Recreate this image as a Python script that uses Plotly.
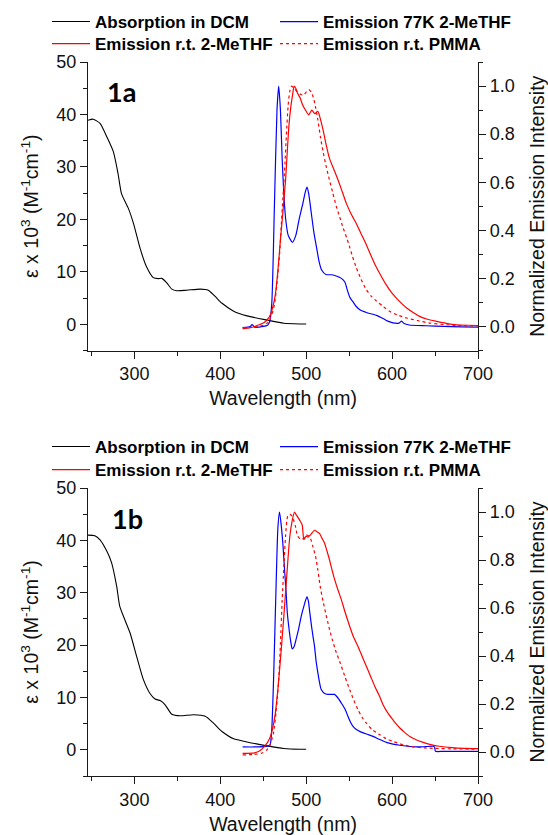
import plotly.graph_objects as go

# ---------------- 1a ----------------
abs_a_wl = [246, 252, 260, 268, 275.5, 281, 285, 293, 299, 306.6, 314, 322, 328, 332, 337.7, 343.6,
            349.4, 361, 376.6, 386, 394, 402, 415.6, 431, 454.5, 474, 493, 500]
abs_a = [38.9, 39.1, 38.3, 35.7, 32.9, 28.7, 24.9, 22.1, 19.2, 14.5, 11.0, 8.9, 8.7, 8.75, 7.9, 6.7,
         6.4, 6.5, 6.7, 6.5, 5.3, 4.0, 2.5, 1.6, 0.8, 0.2, 0.06, 0.05]

em77_a_wl = [426, 435, 437, 440, 450, 455, 457.5, 460, 463, 466, 468, 470, 472, 474, 476, 479, 484, 488,
             492, 496, 499, 501, 503, 506, 509, 512, 515, 518, 523, 530, 535, 541, 545, 548, 551, 555,
             558, 563, 570, 582, 590, 595, 601, 608, 611, 614, 620, 640, 660, 680, 700]
em77_a = [-0.005, 0.0, 0.008, -0.003, 0.0, 0.005, 0.02, 0.1, 0.5, 0.9, 1.0, 0.9, 0.7, 0.55, 0.45, 0.38,
          0.35, 0.38, 0.45, 0.51, 0.56, 0.58, 0.55, 0.47, 0.39, 0.33, 0.27, 0.235, 0.216, 0.215, 0.21,
          0.2, 0.185, 0.15, 0.12, 0.1, 0.084, 0.068, 0.058, 0.046, 0.032, 0.022, 0.015, 0.014, 0.022,
          0.012, 0.006, 0.003, 0.0, -0.002, -0.003]

emrt_a_wl = [426, 435, 440, 446, 451, 455, 458.5, 461, 464, 467, 470, 473, 476, 478, 480, 482, 484, 486,
             488, 490, 493, 496, 500, 503, 506.5, 510, 513.5, 516, 519.5, 523, 527, 532, 537, 542, 547,
             552, 558, 564, 570, 576, 582, 588, 593, 599, 605, 611, 617, 625, 632, 641, 652, 663, 675,
             688, 700]
emrt_a = [-0.01, -0.005, 0.0, 0.008, 0.016, 0.03, 0.05, 0.08, 0.13, 0.23, 0.36, 0.48, 0.61, 0.73, 0.84,
          0.91, 0.96, 1.0, 0.99, 0.97, 0.95, 0.92, 0.895, 0.88, 0.9, 0.885, 0.895, 0.87, 0.82, 0.76, 0.7,
          0.655, 0.61, 0.56, 0.51, 0.47, 0.43, 0.385, 0.34, 0.29, 0.244, 0.205, 0.174, 0.143, 0.118,
          0.096, 0.077, 0.057, 0.042, 0.03, 0.021, 0.013, 0.007, 0.005, 0.004]

pmma_a_wl = [426, 440, 450, 455, 460, 463, 466, 469, 471, 473, 475, 477, 479, 481, 483, 486, 490, 494,
             497, 500, 503, 506, 508.5, 511, 513.5, 516.5, 519.5, 523, 527, 531, 535, 539, 543, 547,
             550.6, 554, 558.4, 564, 570, 576, 582, 590, 597, 606, 617, 630, 644, 660, 675, 700]
pmma_a = [-0.005, -0.003, 0.005, 0.015, 0.05, 0.09, 0.18, 0.3, 0.42, 0.54, 0.66, 0.8, 0.92, 0.98, 1.0,
          0.99, 0.975, 0.965, 0.962, 0.975, 0.985, 0.975, 0.95, 0.91, 0.86, 0.79, 0.73, 0.67, 0.61,
          0.555, 0.5, 0.455, 0.41, 0.37, 0.33, 0.29, 0.244, 0.195, 0.153, 0.125, 0.105, 0.082, 0.063,
          0.048, 0.035, 0.024, 0.014, 0.008, 0.004, 0.002]

# ---------------- 1b ----------------
abs_b_wl = [246, 254, 260, 268, 273.5, 279.4, 283, 289, 295, 302.7, 310.5, 318, 324, 330, 335.8, 343.6,
            353.3, 369, 382.5, 392, 402, 415.6, 431, 454.5, 474, 493, 500]
abs_b = [41.0, 40.9, 40.1, 37.9, 35.7, 31.2, 27.4, 24.8, 22.3, 17.8, 13.4, 10.8, 9.7, 9.4, 8.6, 6.8,
         6.5, 6.7, 6.4, 5.1, 3.5, 2.1, 1.5, 0.76, 0.25, 0.1, 0.1]

em77_b_wl = [426, 440, 450, 455, 458, 460, 462, 465, 467, 468.9, 470.5, 472.8, 475, 476.7, 478, 479.8,
             482, 483.7, 486, 488.3, 491, 494.2, 497.5, 500.8, 502.5, 503.9, 506, 508, 509.7, 511.5,
             513.6, 515.5, 517.5, 521, 525.3, 529, 533, 537, 540.9, 545, 548.6, 551.5, 554.5, 558,
             562.3, 570, 577.8, 585, 593.4, 601, 609, 618, 628.4, 638, 647.9, 649.5, 650.5, 660, 700]
em77_b = [0.021, 0.021, 0.022, 0.024, 0.03, 0.1, 0.3, 0.7, 0.93, 1.0, 0.96, 0.87, 0.75, 0.66, 0.58, 0.52,
          0.46, 0.43, 0.44, 0.47, 0.51, 0.565, 0.61, 0.646, 0.63, 0.59, 0.53, 0.48, 0.44, 0.38, 0.33,
          0.29, 0.26, 0.245, 0.24, 0.24, 0.24, 0.225, 0.204, 0.18, 0.149, 0.125, 0.107, 0.095, 0.086,
          0.075, 0.065, 0.053, 0.04, 0.033, 0.028, 0.024, 0.021, 0.022, 0.024, 0.02, 0.003, 0.003, 0.003]

emrt_b_wl = [426, 440, 446, 450.6, 455, 458.4, 461, 464, 467, 470, 473, 475.9, 478.5, 481, 483.5, 486.4,
             488, 490, 492.5, 495.3, 497.3, 500, 502, 505, 509.7, 512.5, 515.6, 518.5, 521.4, 524,
             527.2, 530, 533, 537, 540.9, 545.5, 550.6, 555, 560.3, 565, 570, 575, 579.8, 585, 589.5,
             594, 599.2, 604, 609, 614, 620.6, 628, 636.2, 645, 655, 670, 685, 700]
emrt_b = [-0.006, -0.004, 0.005, 0.02, 0.04, 0.065, 0.1, 0.16, 0.26, 0.385, 0.52, 0.66, 0.79, 0.9, 0.96,
          1.0, 0.99, 0.98, 0.965, 0.947, 0.885, 0.9, 0.895, 0.905, 0.924, 0.918, 0.91, 0.89, 0.87, 0.84,
          0.8, 0.76, 0.72, 0.675, 0.635, 0.58, 0.524, 0.48, 0.44, 0.4, 0.357, 0.315, 0.274, 0.235,
          0.197, 0.168, 0.142, 0.12, 0.1, 0.084, 0.065, 0.051, 0.04, 0.031, 0.024, 0.018, 0.015, 0.014]

pmma_b_wl = [426, 440, 448, 454.5, 458, 462, 465, 468, 470, 472, 474, 476, 478.6, 481, 483, 485, 487.5,
             490, 494, 497, 500, 503, 505, 507.5, 510.9, 513.5, 516.3, 519.5, 522.6, 526.5, 530.4, 535,
             539.7, 545, 550.6, 555.5, 560.3, 565, 570, 577, 585.6, 593, 601, 612, 624.5, 638, 650,
             670, 700]
pmma_b = [-0.012, -0.01, -0.005, 0.01, 0.03, 0.08, 0.17, 0.3, 0.45, 0.63, 0.77, 0.9, 0.985, 0.99, 0.985,
          0.97, 0.94, 0.9, 0.885, 0.89, 0.905, 0.9, 0.89, 0.86, 0.815, 0.76, 0.69, 0.63, 0.58, 0.52,
          0.468, 0.415, 0.37, 0.315, 0.26, 0.215, 0.176, 0.145, 0.12, 0.093, 0.072, 0.056, 0.044,
          0.031, 0.021, 0.017, 0.015, 0.013, 0.012]

names = ["Absorption in DCM", "Emission 77K 2-MeTHF", "Emission r.t. 2-MeTHF", "Emission r.t. PMMA"]
colors = ["#000000", "#0000FF", "#FF0000", "#FF0000"]
dashes = ["solid", "solid", "solid", "dot"]

x_ticks = [300, 400, 500, 600, 700]
left_ticks = [0, 10, 20, 30, 40, 50]
right_ticks = [0.0, 0.2, 0.4, 0.6, 0.8, 1.0]
panel_labels = ["1a", "1b"]

W, H = 548, 835
FONT = "Liberation Sans, Arial, sans-serif"
AX = "#1a1a1a"

fig = go.Figure()

panels = [
    ((abs_a_wl, abs_a), (em77_a_wl, em77_a), (emrt_a_wl, emrt_a), (pmma_a_wl, pmma_a)),
    ((abs_b_wl, abs_b), (em77_b_wl, em77_b), (emrt_b_wl, emrt_b), (pmma_b_wl, pmma_b)),
]
axes = [("x", "y", "y2"), ("x2", "y3", "y4")]

leg_idx = 1
for p, series in enumerate(panels):
    xa, yl, yr = axes[p]
    for k, (wl, val) in enumerate(series):
        lname = "legend" if leg_idx == 1 else f"legend{leg_idx}"
        fig.add_trace(go.Scatter(
            x=wl, y=val, mode="lines", name=names[k],
            line=dict(color=colors[k], width=1.1 if k == 0 else 1.2, dash=dashes[k],
                      shape="spline", smoothing=0.6),
            xaxis=xa, yaxis=(yl if k == 0 else yr),
            legend=lname, showlegend=True,
        ))
        leg_idx += 1

# panel geometry in pixels
xl, xr = 88, 478
panel_px = [(62, 350.5), (488, 776)]
leg_rows = [(22, 44), (447, 470)]
leg_cols = [47, 275]

def px_x(v):
    return v / W

def px_y(v):
    return 1 - v / H

layout = dict(
    width=W, height=H,
    margin=dict(l=0, r=0, t=0, b=0, autoexpand=False),
    paper_bgcolor="white", plot_bgcolor="white",
    font=dict(family=FONT, color="#000000", size=17),
)

tickfont = dict(family=FONT, size=18, color="#111111")
titlefont = dict(family=FONT, size=19.5, color="#111111")

for p in range(2):
    top, bot = panel_px[p]
    dom_y = [px_y(bot), px_y(top)]
    xkey = "xaxis" if p == 0 else "xaxis2"
    ylkey = "yaxis" if p == 0 else "yaxis3"
    yrkey = "yaxis2" if p == 0 else "yaxis4"
    xname = "x" if p == 0 else "x2"
    ylname = "y" if p == 0 else "y3"
    layout[xkey] = dict(
        domain=[px_x(xl), px_x(xr)], range=[246, 700], anchor=ylname, automargin=False,
        showline=True, linecolor=AX, linewidth=1.3, mirror=False,
        showgrid=False, zeroline=False,
        tickmode="array", tickvals=x_ticks, ticks="outside", ticklen=7, tickwidth=1.2, tickcolor=AX,
        minor=dict(dtick=50, tick0=250, ticks="outside", ticklen=4, tickwidth=1.1, tickcolor=AX),
        tickfont=tickfont,
        title=dict(text="Wavelength (nm)", font=titlefont, standoff=8),
    )
    layout[ylkey] = dict(
        domain=dom_y, range=[-5, 50], anchor=xname, automargin=False,
        showline=True, linecolor=AX, linewidth=1.3,
        showgrid=False, zeroline=False,
        tickmode="array", tickvals=left_ticks, ticks="outside", ticklen=7, tickwidth=1.2, tickcolor=AX,
        minor=dict(dtick=5, tick0=-5, ticks="outside", ticklen=4, tickwidth=1.1, tickcolor=AX),
        tickfont=tickfont,
        title=dict(text="ε x 10<sup>3</sup> (M<sup>-1</sup>cm<sup>-1</sup>)", font=titlefont, standoff=12),
    )
    layout[yrkey] = dict(
        overlaying=ylname, side="right", anchor=xname, range=[-0.1, 1.1], automargin=False,
        showline=True, linecolor=AX, linewidth=1.3,
        showgrid=False, zeroline=False,
        tickmode="array", tickvals=right_ticks, tickformat=".1f",
        ticks="outside", ticklen=7, tickwidth=1.2, tickcolor=AX,
        minor=dict(dtick=0.1, tick0=-0.1, ticks="outside", ticklen=4, tickwidth=1.1, tickcolor=AX),
        tickfont=tickfont,
        title=dict(text="Normalized Emission Intensity", font=titlefont, standoff=16),
    )

# legends: one per entry, placed in a 2x2 grid above each panel
leg_idx = 1
for p in range(2):
    for k in range(4):
        r, c = divmod(k, 2)
        lname = "legend" if leg_idx == 1 else f"legend{leg_idx}"
        layout[lname] = dict(
            x=px_x(leg_cols[c]), y=px_y(leg_rows[p][r]), xanchor="left", yanchor="middle",
            xref="paper", yref="paper",
            bgcolor="rgba(0,0,0,0)", borderwidth=0,
            font=dict(family=FONT, size=17, color="#000000", weight="bold"),
            itemwidth=38,
        )
        leg_idx += 1

annotations = []
label_pos = [(121, 91), (127, 518)]
for p in range(2):
    annotations.append(dict(
        text=f"<b>{panel_labels[p]}</b>", x=px_x(label_pos[p][0]), y=px_y(label_pos[p][1]),
        xref="paper", yref="paper", showarrow=False, xanchor="center", yanchor="middle",
        font=dict(family="Lato, sans-serif", size=27, color="#000000"),
    ))
layout["annotations"] = annotations

fig.update_layout(**layout)
fig.write_html("out.html")
